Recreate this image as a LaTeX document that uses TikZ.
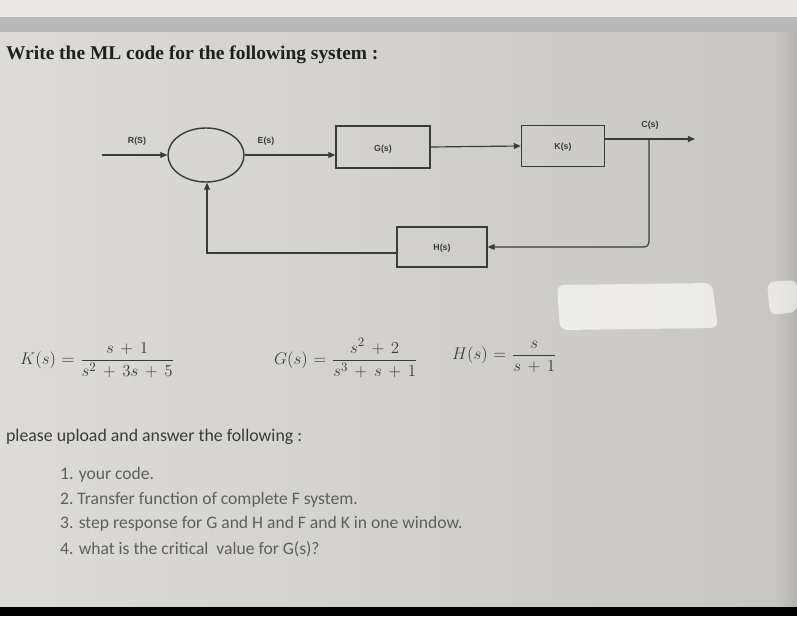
\documentclass[tikz,border=0pt]{standalone}
\usepackage{amsmath}
\usepackage{fontspec}
\setmainfont{Carlito}
\newfontfamily\titlefont{Liberation Serif}
\newfontfamily\lblfont{Liberation Sans}
\usetikzlibrary{arrows.meta,shapes.geometric}
\newcommand{\wideops}{\medmuskip=7mu\relax\thickmuskip=6mu\relax}
\definecolor{page}{HTML}{DDDBD8}
\definecolor{pagedark}{HTML}{C8C6C3}
\definecolor{ink}{HTML}{3A3A3A}
\definecolor{listink}{HTML}{5E5E5E}
\tikzset{
  blk/.style={draw=ink, line width=1.2pt, inner sep=0pt},
  sumnode/.style={ellipse, draw=ink, line width=1.2pt, minimum width=2.28cm, minimum height=1.62cm, inner sep=0pt},
  lbl/.style={font=\lblfont\bfseries\fontsize{7.5}{9}\selectfont, text=ink},
  sig/.style={draw=ink, line width=1pt, -{Triangle[length=6pt,width=5pt]}},
  eqn/.style={anchor=west, text=ink, font=\fontsize{15.5}{18}\selectfont},
  item/.style={anchor=west, text=listink, font=\fontsize{15}{17}\selectfont}
}
\begin{document}
\begin{tikzpicture}[x=0.03cm,y=-0.03cm]
\useasboundingbox (0,0) rectangle (797,616);
\fill[page!60!white] (0,0) rectangle (797,17);
\fill[black!28] (0,17) rectangle (797,32);
\shade[left color=page, right color=pagedark] (0,32) rectangle (797,607);
\shade[left color=pagedark, right color=pagedark!90!black] (775,32) rectangle (797,607);
\fill[black] (0,607) rectangle (797,616);
\fill[white, opacity=0.65, rounded corners=6pt] (557,285) -- (712,283) -- (718,328) -- (560,330) -- cycle;
\fill[white, opacity=0.6, rounded corners=6pt] (767,282) -- (797,280) -- (797,312) -- (770,315) -- cycle;

\node[anchor=west, text=black!88, font=\titlefont\bfseries\fontsize{16.6}{20}\selectfont] (title) at (2,55) {Write the ML code for the following system :};

\node[sumnode] (sum) at (206,155) {};
\node[blk, minimum width=2.82cm, minimum height=1.26cm] (G) at (383,147) {};
\node[blk, minimum width=2.49cm, minimum height=1.23cm] (K) at (563,146) {};
\node[blk, minimum width=2.7cm, minimum height=1.2cm] (H) at (442,247) {};
\node[lbl] (Gl) at (383,149) {G(s)};
\node[lbl] (Kl) at (563,147) {K(s)};
\node[lbl] (Hl) at (442,248) {H(s)};
\node[lbl] (Rl) at (137,141) {R(S)};
\node[lbl] (El) at (266,141) {E(s)};
\node[lbl] (Cl) at (650,125) {C(s)};

\coordinate (in) at (102,155);
\coordinate (cout) at (695,139);
\coordinate (br) at (649,139);
\coordinate (fb) at (207,253);
\draw[sig] (in) -- (sum.west);
\draw[sig] (sum.east) -- (sum.east -| G.west);
\draw[sig] (G.east) -- (K.west);
\draw[sig] (K.east |- cout) -- (cout);
\draw[sig, rounded corners=4pt] (br) -- (br |- H.east) -- (H.east);
\draw[sig] (H.west |- fb) -- (fb) -- (fb |- sum.south);

\node[eqn] (Keq) at (16,360) {$\wideops K(s)=\dfrac{s+1}{s^2+3s+5}$};
\node[eqn] (Geq) at (270,358) {$\wideops G(s)=\dfrac{s^2+2}{s^3+s+1}$};
\node[eqn] (Heq) at (448,357) {$\wideops H(s)=\dfrac{s}{s+1}$};

\node[anchor=west, text=ink, font=\fontsize{15.2}{18}\selectfont] (ask) at (2,437) {please upload and answer the following :};
\node[item] (q1) at (56,475) {1. your code.};
\node[item] (q2) at (56,500) {2.\ Transfer function of complete F system.};
\node[item] (q3) at (56,524) {3. step response for G and H and F and K in one window.};
\node[item] (q4) at (56,549) {4. what is the critical\ \ value for G(s)?};
\end{tikzpicture}
\end{document}
